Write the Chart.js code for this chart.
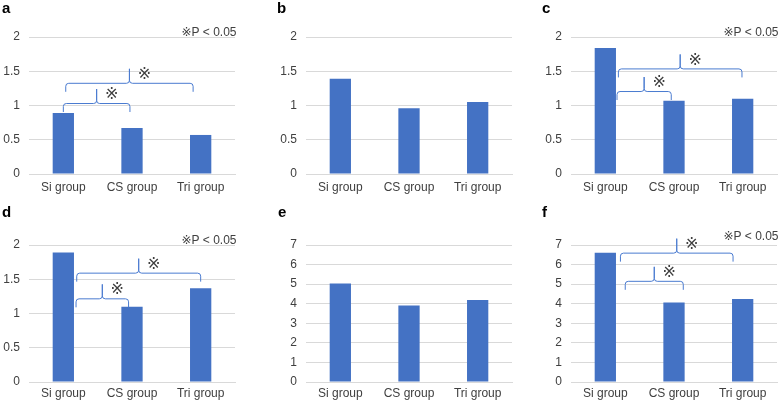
<!DOCTYPE html>
<html>
<head>
<meta charset="utf-8">
<script src="https://cdn.jsdelivr.net/npm/chart.js@4/dist/chart.umd.min.js"></script>
<style>
  html, body { margin: 0; padding: 0; background: #ffffff; }
  body { width: 778px; height: 401px; position: relative; overflow: hidden; }
  canvas { position: absolute; }
</style>
</head>
<body>
<canvas id="ca" width="260" height="200" style="left:0px;top:0px"></canvas>
<canvas id="cb" width="260" height="200" style="left:260px;top:0px"></canvas>
<canvas id="cc" width="258" height="200" style="left:520px;top:0px"></canvas>
<canvas id="cd" width="260" height="201" style="left:0px;top:200px"></canvas>
<canvas id="ce" width="260" height="201" style="left:260px;top:200px"></canvas>
<canvas id="cf" width="258" height="201" style="left:520px;top:200px"></canvas>
<script>
// ---- data ----
const categories = ['Si group', 'CS group', 'Tri group'];
const valuesA = [0.89, 0.67, 0.57];
const valuesB = [1.39, 0.96, 1.05];
const valuesC = [1.84, 1.07, 1.10];
const valuesD = [1.89, 1.10, 1.37];
const valuesE = [5.03, 3.91, 4.19];
const valuesF = [6.60, 4.06, 4.24];
const axisMaxSmall = 2, axisStepSmall = 0.5;
const axisMaxLarge = 7, axisStepLarge = 1;
const noteText = '※P < 0.05';
const markText = '※';
// significance braces: category positions (fractional) and leg-bottom value
const bracesA = [{ from: 0.00, to: 0.97, y: 0.905 }, { from: 0.035, to: 1.89, y: 1.20 }];
const bracesC = [{ from: 0.17, to: 0.96, y: 1.08 }, { from: 0.19, to: 1.99, y: 1.41 }];
const bracesD = [{ from: 0.185, to: 0.95, y: 1.09 }, { from: 0.195, to: 2.00, y: 1.465 }];
const bracesF = [{ from: 0.29, to: 1.135, y: 4.71 }, { from: 0.22, to: 1.86, y: 6.15 }];

const BAR = '#4472C4';
const BRACE = '#4a7bd0';
const TEXT = '#404040';
const GRID = '#d9d9d9';

const panels = [
  { id: 'ca', letter: 'a', lx: 2, ly: 12.7, values: valuesA, max: axisMaxSmall, step: axisStepSmall, yW: 29, padR: 25, padT: 37, xH: 26, xPad: 6, braces: bracesA, note: 1 },
  { id: 'cb', letter: 'b', lx: 17, ly: 13.3, values: valuesB, max: axisMaxSmall, step: axisStepSmall, yW: 46, padR: 8, padT: 37, xH: 26, xPad: 6, braces: [], note: null },
  { id: 'cc', letter: 'c', lx: 22, ly: 12.7, values: valuesC, max: axisMaxSmall, step: axisStepSmall, yW: 51, padR: 1, padT: 37, xH: 26, xPad: 6, braces: bracesC, note: 1 },
  { id: 'cd', letter: 'd', lx: 2, ly: 16.7, values: valuesD, max: axisMaxSmall, step: axisStepSmall, yW: 29, padR: 25, padT: 45, xH: 19, xPad: 4, braces: bracesD, note: 1 },
  { id: 'ce', letter: 'e', lx: 18, ly: 17.3, values: valuesE, max: axisMaxLarge, step: axisStepLarge, yW: 46, padR: 8, padT: 45, xH: 19, xPad: 4, braces: [], note: null },
  { id: 'cf', letter: 'f', lx: 22, ly: 17, values: valuesF, max: axisMaxLarge, step: axisStepLarge, yW: 51, padR: 1, padT: 45, xH: 19, xPad: 4, braces: bracesF, note: 4.3 }
];

function drawBrace(ctx, x1, x2, yb) {
  const legH = 8.5, spike = 14.5, r = 3;
  const yh = yb - legH;
  const xm = (x1 + x2) / 2;
  ctx.beginPath();
  ctx.moveTo(x1, yb);
  ctx.lineTo(x1, yh + r);
  ctx.quadraticCurveTo(x1, yh, x1 + r, yh);
  ctx.lineTo(xm - r, yh);
  ctx.quadraticCurveTo(xm, yh, xm, yh - r);
  ctx.lineTo(xm, yh - spike);
  ctx.moveTo(xm, yh - spike);
  ctx.lineTo(xm, yh - r);
  ctx.quadraticCurveTo(xm, yh, xm + r, yh);
  ctx.lineTo(x2 - r, yh);
  ctx.quadraticCurveTo(x2, yh, x2, yh + r);
  ctx.lineTo(x2, yb);
  ctx.stroke();
  return { xm: xm, top: yh - spike };
}

const annotPlugin = {
  id: 'annot',
  afterDatasetsDraw(chart, args, opts) {
    const p = opts.panel;
    const ctx = chart.ctx;
    const xs = chart.scales.x, ys = chart.scales.y;
    ctx.save();
    // panel letter
    ctx.fillStyle = '#000000';
    ctx.font = 'bold 15px "Liberation Sans", Arial, sans-serif';
    ctx.textAlign = 'left';
    ctx.textBaseline = 'alphabetic';
    ctx.fillText(p.letter, p.lx, p.ly);
    // braces
    ctx.strokeStyle = BRACE;
    ctx.lineWidth = 1;
    p.braces.forEach(b => {
      const x1 = xs.getPixelForValue(b.from);
      const x2 = xs.getPixelForValue(b.to);
      const yb = ys.getPixelForValue(b.y);
      const r = drawBrace(ctx, x1, x2, yb);
      ctx.fillStyle = '#404040';
      ctx.font = '16px "DejaVu Sans", "Noto Sans CJK JP", sans-serif';
      ctx.textAlign = 'center';
      ctx.textBaseline = 'middle';
      ctx.fillText(markText, r.xm + 15, r.top + 6);
    });
    // note
    if (p.note !== null) {
      ctx.fillStyle = TEXT;
      ctx.font = '12px "Liberation Sans", "DejaVu Sans", sans-serif';
      ctx.textAlign = 'right';
      ctx.textBaseline = 'alphabetic';
      ctx.fillText(noteText, chart.chartArea.right + 1.5, ys.getPixelForValue(p.max) - p.note - 0.5);
    }
    ctx.restore();
  }
};

panels.forEach(p => {
  new Chart(document.getElementById(p.id), {
    type: 'bar',
    data: {
      labels: categories,
      datasets: [{ data: p.values, backgroundColor: BAR, borderWidth: 0, barPercentage: 0.31, categoryPercentage: 1 }]
    },
    plugins: [annotPlugin],
    options: {
      responsive: false,
      animation: false,
      devicePixelRatio: 1,
      layout: { padding: { left: 0, right: p.padR, top: p.padT, bottom: 0 } },
      plugins: { legend: { display: false }, tooltip: { enabled: false }, annot: { panel: p } },
      scales: {
        x: {
          grid: { display: false, drawTicks: false },
          border: { display: true, color: GRID, width: 1 },
          ticks: { color: TEXT, font: { family: '"Liberation Sans", Arial, sans-serif', size: 12 }, padding: p.xPad, maxRotation: 0, autoSkip: false },
          afterFit: s => { s.height = p.xH; }
        },
        y: {
          min: 0, max: p.max,
          grid: { color: GRID, lineWidth: 1, drawTicks: false },
          border: { display: false },
          ticks: { stepSize: p.step, color: TEXT, font: { family: '"Liberation Sans", Arial, sans-serif', size: 12 }, padding: 9, callback: v => String(Number(v)) },
          afterFit: s => { s.width = p.yW; }
        }
      }
    }
  });
});
</script>
</body>
</html>
